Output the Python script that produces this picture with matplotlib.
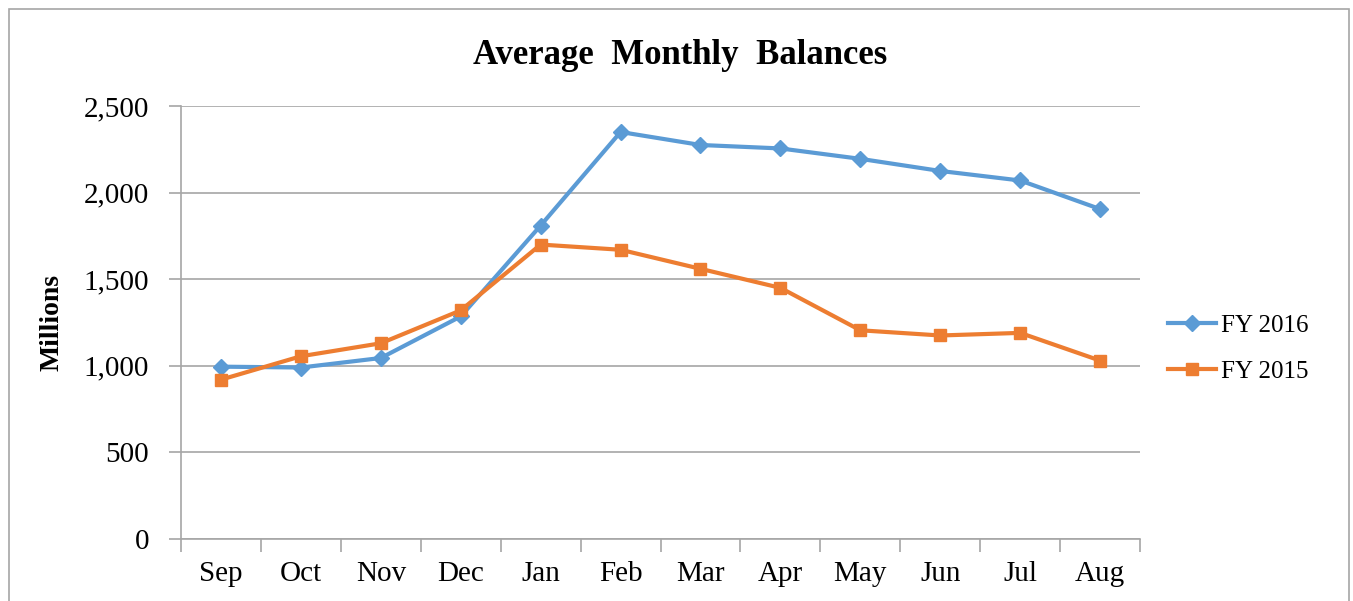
import numpy as np
import matplotlib.pyplot as plt
from matplotlib.patches import Rectangle
from matplotlib.ticker import FuncFormatter, FixedLocator, NullFormatter

months = ["Sep", "Oct", "Nov", "Dec", "Jan", "Feb", "Mar", "Apr", "May", "Jun", "Jul", "Aug"]
fy2016 = [995, 990, 1045, 1285, 1810, 2350, 2275, 2255, 2195, 2125, 2070, 1905]
fy2015 = [920, 1055, 1130, 1320, 1700, 1670, 1560, 1450, 1205, 1175, 1190, 1030]

plt.rcParams["font.family"] = ["Liberation Serif", "DejaVu Serif"]

fig = plt.figure(figsize=(13.53, 6.01), dpi=100)
ax = fig.add_axes([0.1338, 0.1032, 0.7088, 0.7204])

x = np.arange(len(months))
ax.plot(x, fy2016, color="#5B9BD5", lw=3, marker="D", ms=8, label="FY 2016")
ax.plot(x, fy2015, color="#ED7D31", lw=3, marker="s", ms=9, label="FY 2015")

ax.set_xlim(-0.5, len(months) - 0.5)
ax.set_ylim(0, 2500)
ax.set_yticks(np.arange(0, 2501, 500))
ax.yaxis.set_major_formatter(FuncFormatter(lambda v, p: f"{int(v):,}"))
ax.grid(axis="y", color="#A6A6A6", lw=1.2)
ax.set_axisbelow(True)

ax.set_xticks(x)
ax.set_xticklabels(months)
ax.tick_params(axis="x", which="major", length=0, pad=16, labelsize=21)
ax.xaxis.set_minor_locator(FixedLocator(np.arange(-0.5, len(months), 1)))
ax.xaxis.set_minor_formatter(NullFormatter())
ax.tick_params(axis="x", which="minor", length=9, color="#A6A6A6", width=1.2)
ax.tick_params(axis="y", length=9, color="#A6A6A6", width=1.2, labelsize=21, pad=14)

for s in ["top", "right"]:
    ax.spines[s].set_visible(False)
for s in ["left", "bottom"]:
    ax.spines[s].set_color("#A6A6A6")
    ax.spines[s].set_linewidth(1.2)

ax.set_ylabel("Millions", fontsize=20, fontweight="bold", labelpad=14)
fig.text(0.503, 0.907, "Average  Monthly  Balances", ha="center", va="center",
         fontsize=25, fontweight="bold")

ax.legend(loc="center left", bbox_to_anchor=(1.006, 0.44), frameon=False,
          fontsize=18, handlelength=1.9, labelspacing=0.95, handletextpad=0.2)

fig.patches.append(Rectangle((9 / 1353, -0.05), 1340 / 1353, 1 - 9 / 601 + 0.05,
                             transform=fig.transFigure, fill=False,
                             edgecolor="#A6A6A6", lw=1.2))

fig.savefig("out.png", dpi=100)
